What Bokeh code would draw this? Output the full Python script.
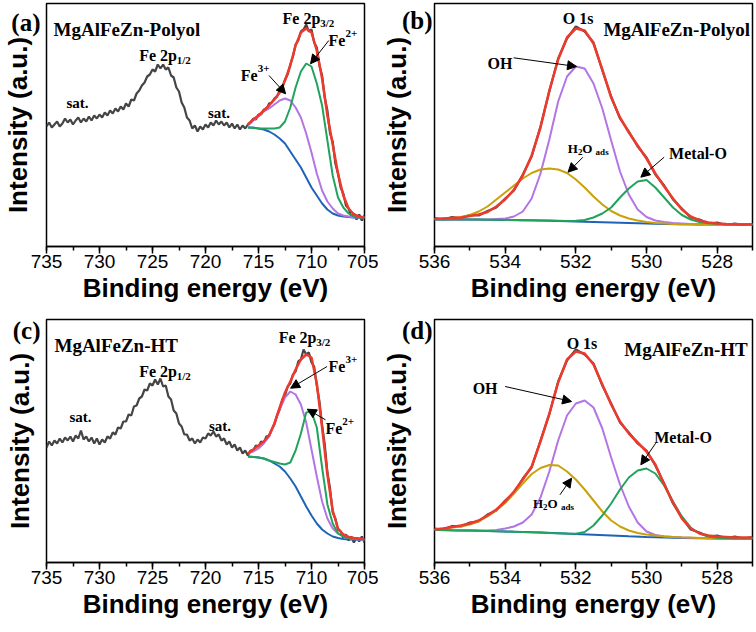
import numpy as np
from bokeh.plotting import figure
from bokeh.models import Range1d, SingleIntervalTicker, FixedTicker, Label, Arrow, NormalHead
from bokeh.layouts import gridplot
from bokeh.embed import file_html
from bokeh.resources import INLINE

# ---------------- data ----------------
# Fe 2p wide grid (735 -> 705 eV, 0.25 eV) and fit grid (716 -> 705 eV, 0.5 eV)
E_fe = np.round(np.arange(735.0, 704.99, -0.25), 2)
E_fe_fit = np.round(np.arange(716.0, 704.99, -0.5), 2)
# O 1s grid (536 -> 527 eV, 0.25 eV) and background grid (0.5 eV)
E_o = np.round(np.arange(536.0, 526.99, -0.25), 2)
E_o_bg = np.round(np.arange(536.0, 526.99, -0.5), 2)

raw_a = [119, 123, 118, 121, 124, 119, 122, 127, 123, 126,
         121, 125, 128, 123, 127, 124, 129, 125, 130, 127,
         131, 128, 133, 130, 135, 132, 137, 134, 139, 136,
         142, 139, 146, 145, 152, 155, 160, 163, 169, 171,
         176, 174, 181, 177, 181, 176, 178, 170, 168, 158,
         154, 143, 138, 128, 125, 117, 120, 114, 119, 116,
         121, 118, 123, 120, 125, 121, 124, 120, 123, 118,
         122, 117, 121, 116, 120, 117, 121, 123, 127, 126,
         131, 131, 136, 136, 142, 143, 147, 149, 155, 158,
         166, 171, 181, 189, 201, 205, 214, 216, 221, 214,
         216, 203, 198, 180, 170, 148, 135, 112, 104, 82,
         72, 58, 52, 40, 37, 29, 32, 26, 31, 25,
         30]
bg_a = [118, 118, 117, 116, 114, 111, 107, 102, 94, 86, 78, 68, 58, 50, 42, 36, 32, 30, 29, 28.5, 28, 28, 28]
fe3_a = [120, 125, 129, 134, 137, 141, 145, 147, 145, 138, 128, 112, 93, 72, 55, 44, 37, 32, 30, 29, 28, 28, 28]
fe2_a = [118, 117.5, 117, 117, 117, 117, 118, 124, 138, 158, 174, 182, 179, 162, 140, 105, 70, 48, 38, 32, 29, 28, 28]
env_a = [121, 126, 130, 135, 140, 146, 153, 165, 180, 200, 213, 217, 213, 195, 167, 130, 101, 72, 50, 37, 31, 29, 28]

raw_c = [115, 121, 117, 122, 119, 124, 120, 125, 122, 126,
         121, 127, 124, 132, 123, 126, 121, 125, 119, 124,
         118, 123, 120, 126, 124, 130, 128, 135, 134, 141,
         141, 148, 147, 156, 157, 164, 166, 173, 172, 179,
         177, 183, 178, 184, 176, 177, 166, 163, 152, 149,
         139, 136, 128, 128, 122, 124, 119, 123, 120, 125,
         124, 129, 127, 131, 126, 128, 122, 124, 118, 121,
         115, 118, 112, 115, 109, 112, 107, 112, 112, 117,
         116, 121, 120, 126, 127, 133, 138, 147, 153, 163,
         167, 176, 179, 188, 191, 201, 203, 213, 208, 210,
         200, 196, 177, 161, 137, 118, 90, 74, 50, 44,
         33, 31, 25, 28, 22, 26, 20, 25, 21, 26,
         20]
bg_c = [106, 105.5, 105, 104, 102, 99, 96, 91, 84, 76, 66, 56, 47, 39, 33, 29, 26, 24.5, 23.5, 23, 23, 23, 23]
fe3_c = [109, 111, 114, 119, 126, 139, 153, 165, 171, 168, 158, 140, 113, 86, 61, 44, 34, 29, 26, 24.5, 23.5, 23, 23]
fe2_c = [106, 105.5, 105, 104, 102, 100.5, 99, 98, 100, 112, 129, 150, 151, 135, 95, 58, 39, 29, 26, 24.5, 24, 23.5, 23]
env_c = [109, 113, 117, 121, 127, 139, 155, 170, 181, 193, 203, 208, 205, 179, 135, 88, 52, 34, 28, 25.5, 24.5, 24, 23.5]

raw_b = [27.5, 26, 28.5, 27, 30.5, 30, 34.5, 38, 47, 55, 71, 89, 119, 154, 187, 207, 219, 214, 203, 175,
         149, 127, 114, 99, 88, 71, 60, 46, 37, 28, 26, 22, 23, 20.5, 22, 20.5, 21.5]
bg_b = [26, 26, 26, 25.8, 25.6, 25.3, 25, 24.6, 24, 23.5, 23, 22.5, 22, 21.6, 21.3, 21.1, 21, 21, 21]
h2o_b = [26.5, 27, 27.5, 28.5, 30.5, 34, 39, 46, 53, 60, 67, 72.5, 76, 77, 76, 72.5, 66, 58, 49, 41,
         34.5, 30, 27, 25, 23.5, 22.5, 22, 21.5, 21.3, 21.2, 21.1, 21, 21, 21, 21, 21, 21]
oh_b = [26, 26, 26, 26, 26, 26, 26, 26.5, 27, 29, 34, 47, 72, 106, 144, 169, 179, 177, 162, 137,
        105, 74, 51, 36, 28.5, 25, 23.5, 22.5, 22, 21.5, 21.3, 21.2, 21, 21, 21, 21, 21]
mo_b = [26, 26, 26, 26, 26, 25.9, 25.8, 25.7, 25.6, 25.5, 25.3, 25.2, 25, 24.9, 24.8, 24.6, 24.8, 25.5, 28, 32,
        38, 48, 57, 64, 65.5, 58, 48, 38, 30.5, 26, 23.5, 22.3, 21.7, 21.3, 21.1, 21, 21]
env_b = [26.5, 27, 27.5, 28, 29.5, 31, 33.5, 39, 46, 56, 70, 90, 118, 155, 186, 208, 217, 215, 202, 176,
         148, 128, 113, 100, 87, 72, 59, 47, 36, 29, 25, 23, 22, 21.5, 21.2, 21, 21]

raw_d = [34, 33, 36.5, 36, 40, 41, 48, 52, 62, 70, 84, 95, 122, 148, 181, 202, 213, 208, 199, 177,
         159, 140, 130, 119, 112, 97, 79, 59, 45, 33, 30, 26, 27, 24.5, 26, 24, 25.5]
bg_d = [32.5, 32.2, 32, 31.5, 31, 30.5, 30, 29.3, 28.5, 27.8, 27, 26.2, 25.5, 25, 24.6, 24.3, 24.1, 24, 24]
h2o_d = [33, 34, 35, 36, 38, 41, 46, 52, 59.5, 69, 79, 88.5, 94.5, 97.5, 97, 91, 83, 73, 62, 51,
         42, 36, 32, 29.5, 28, 27, 26.2, 25.6, 25.2, 24.9, 24.6, 24.4, 24.2, 24.1, 24, 24, 24]
oh_d = [32.5, 32.4, 32.2, 32.1, 32, 32, 32, 32.5, 34, 36, 40, 48, 65, 91, 122, 147, 159, 162, 155, 134,
        105, 78, 56, 40, 31, 27.5, 26, 25.4, 25, 24.7, 24.5, 24.3, 24.1, 24, 24, 24, 24]
mo_d = [32.5, 32.4, 32.2, 32.1, 32, 31.7, 31.5, 31.2, 31, 30.7, 30.5, 30.2, 30, 29.6, 29.3, 28.9, 28.7, 30.5, 37, 47,
        59, 73, 85, 92, 94, 89, 77, 61, 46, 35, 29, 26, 24.8, 24.3, 24.1, 24, 24]
env_d = [33, 34, 35.5, 37, 39, 42, 47, 53, 61, 71, 83, 96, 121, 149, 180, 203, 211, 209, 198, 178,
         158, 141, 129, 120, 111, 98, 78, 60, 44, 34, 29, 27, 26, 25.5, 25, 25, 25]

# ---------------- style ----------------
SERIF = "Liberation Serif"
SANS = "Liberation Sans"
C_RAW = "#454545"
C_ENV = "#EE3A2C"
C_PUR = "#B275E3"
C_GRN = "#21A35C"
C_BLU = "#1F63B8"
C_GLD = "#C9A10B"


def make_panel(xr, yr, interval, left, right, tag, tag_y, tag_standoff, label_standoff):
    p = figure(width=378, height=316, x_range=Range1d(*xr), y_range=Range1d(*yr),
               output_backend="svg", toolbar_location=None,
               min_border_left=left, min_border_right=right,
               min_border_top=3, min_border_bottom=70)
    p.grid.visible = False
    p.outline_line_color = "black"
    p.outline_line_width = 1.5
    p.background_fill_color = "white"
    p.border_fill_color = "white"
    xa = p.xaxis[0]
    xa.ticker = SingleIntervalTicker(interval=interval, num_minor_ticks=2)
    xa.axis_line_width = 1.5
    xa.major_tick_line_width = 1.5
    xa.minor_tick_line_width = 1.5
    xa.major_tick_out = 7
    xa.major_tick_in = 0
    xa.minor_tick_out = 4
    xa.minor_tick_in = 0
    xa.major_label_text_font = SANS
    xa.major_label_text_font_size = "19px"
    xa.major_label_text_color = "black"
    xa.major_label_standoff = 1
    xa.axis_label = "Binding energy (eV)"
    xa.axis_label_text_font = SANS
    xa.axis_label_text_font_size = "26px"
    xa.axis_label_text_font_style = "bold"
    xa.axis_label_text_color = "black"
    xa.axis_label_standoff = 2
    # left axis: no ticks; its single tick label carries the panel tag, e.g. "(a)"
    ya = p.yaxis[0]
    ya.ticker = FixedTicker(ticks=[tag_y])
    ya.major_label_overrides = {tag_y: tag}
    ya.axis_line_color = None
    ya.major_tick_line_color = None
    ya.minor_tick_line_color = None
    ya.major_tick_out = 0
    ya.major_tick_in = 0
    ya.major_label_text_font = SERIF
    ya.major_label_text_font_size = "25px"
    ya.major_label_text_font_style = "bold"
    ya.major_label_text_color = "black"
    ya.major_label_standoff = tag_standoff
    ya.axis_label = "Intensity (a.u.)"
    ya.axis_label_text_font = SANS
    ya.axis_label_text_font_size = "26px"
    ya.axis_label_text_font_style = "bold"
    ya.axis_label_text_color = "black"
    ya.axis_label_standoff = label_standoff
    return p


def lab(p, x, y, text, size, base="alphabetic", font=SERIF, style="bold"):
    p.add_layout(Label(x=x, y=y, text=text, text_font=font, text_font_size=size,
                       text_font_style=style, text_color="black",
                       text_baseline=base, text_align="left"))


def arrow(p, x0, y0, x1, y1):
    p.add_layout(Arrow(end=NormalHead(size=9, fill_color="black", line_color="black", line_width=1),
                       x_start=x0, y_start=y0, x_end=x1, y_end=y1,
                       line_color="black", line_width=1))


# ---------------- panel (a) ----------------
pa = make_panel((735, 705), (-1, 242), 5, 45, 14, "(a)", 223, 6, -25)
pa.line(E_fe, raw_a, line_color=C_RAW, line_width=2.2)
pa.line(E_fe_fit, bg_a, line_color=C_BLU, line_width=2)
pa.line(E_fe_fit, fe3_a, line_color=C_PUR, line_width=2)
pa.line(E_fe_fit, fe2_a, line_color=C_GRN, line_width=2)
pa.line(E_fe_fit, env_a, line_color=C_ENV, line_width=2.5)
lab(pa, 734.34, 216, "MgAlFeZn-Polyol", "19px")
lab(pa, 726.26, 190, "Fe 2p", "16px")
lab(pa, 722.71, 186, "1/2", "11px")
lab(pa, 712.73, 227, "Fe 2p", "16px")
lab(pa, 709.17, 223, "3/2", "11px")
lab(pa, 708.40, 205, "Fe", "16px")
lab(pa, 706.80, 212, "2+", "11px")
lab(pa, 716.67, 170, "Fe", "16px")
lab(pa, 715.08, 177, "3+", "11px")
lab(pa, 733.12, 143, "sat.", "15px")
lab(pa, 719.77, 133, "sat.", "15px")
arrow(pa, 714.01, 170, 712.44, 151.7)
arrow(pa, 708.37, 205, 710.09, 181.7)

# ---------------- panel (b) ----------------
pb = make_panel((536, 527), (-1, 242), 2, 54, 4, "(b)", 225, 2, -13)
pb.line(E_o, raw_b, line_color=C_RAW, line_width=2.2)
pb.line(E_o_bg, bg_b, line_color=C_BLU, line_width=2)
pb.line(E_o, oh_b, line_color=C_PUR, line_width=2)
pb.line(E_o, h2o_b, line_color=C_GLD, line_width=2)
pb.line(E_o, mo_b, line_color=C_GRN, line_width=2)
pb.line(E_o, env_b, line_color=C_ENV, line_width=2.5)
lab(pb, 532.37, 227, "O 1s", "16px")
lab(pb, 531.22, 216, "MgAlFeZn-Polyol", "19px")
lab(pb, 534.50, 182, "OH", "16px")
lab(pb, 532.23, 97, "H", "13px")
lab(pb, 531.94, 94, "2", "9px")
lab(pb, 531.82, 97, "O", "13px")
lab(pb, 531.44, 94, "ads", "9px")
lab(pb, 529.36, 92, "Metal-O", "16px")
arrow(pb, 533.76, 187.7, 531.98, 179)
arrow(pb, 531.80, 88.3, 532.22, 73.3)
arrow(pb, 529.50, 88.3, 530.16, 68.3)

# ---------------- panel (c) ----------------
pc = make_panel((735, 705), (0, 243), 5, 45, 14, "(c)", 233, 6, -25)
pc.line(E_fe, raw_c, line_color=C_RAW, line_width=2.2)
pc.line(E_fe_fit, bg_c, line_color=C_BLU, line_width=2)
pc.line(E_fe_fit, fe3_c, line_color=C_PUR, line_width=2)
pc.line(E_fe_fit, fe2_c, line_color=C_GRN, line_width=2)
pc.line(E_fe_fit, env_c, line_color=C_ENV, line_width=2.5)
lab(pc, 734.25, 217, "MgAlFeZn-HT", "19px")
lab(pc, 713.10, 225, "Fe 2p", "16px")
lab(pc, 709.55, 221, "3/2", "11px")
lab(pc, 726.26, 191, "Fe 2p", "16px")
lab(pc, 722.71, 187, "1/2", "11px")
lab(pc, 708.40, 196, "Fe", "16px")
lab(pc, 706.80, 203, "3+", "11px")
lab(pc, 708.68, 134, "Fe", "16px")
lab(pc, 707.09, 141, "2+", "11px")
lab(pc, 732.84, 146, "sat.", "15px")
lab(pc, 719.68, 137, "sat.", "15px")
arrow(pc, 708.53, 196, 711.97, 174.3)
arrow(pc, 708.68, 142.7, 710.40, 153.3)

# ---------------- panel (d) ----------------
pd = make_panel((536, 527), (0, 243), 2, 54, 4, "(d)", 233, 2, -13)
pd.line(E_o, raw_d, line_color=C_RAW, line_width=2.2)
pd.line(E_o_bg, bg_d, line_color=C_BLU, line_width=2)
pd.line(E_o, oh_d, line_color=C_PUR, line_width=2)
pd.line(E_o, h2o_d, line_color=C_GLD, line_width=2)
pd.line(E_o, mo_d, line_color=C_GRN, line_width=2)
pd.line(E_o, env_d, line_color=C_ENV, line_width=2.5)
lab(pd, 532.26, 219, "O 1s", "16px")
lab(pd, 530.63, 213, "MgAlFeZn-HT", "19px")
lab(pd, 534.92, 174, "OH", "16px")
lab(pd, 533.21, 59, "H", "13px")
lab(pd, 532.93, 56, "2", "9px")
lab(pd, 532.80, 59, "O", "13px")
lab(pd, 532.42, 56, "ads", "9px")
lab(pd, 529.78, 125, "Metal-O", "16px")
arrow(pd, 534.00, 176, 532.12, 161)
arrow(pd, 532.45, 67.7, 532.12, 84.3)
arrow(pd, 529.74, 119.3, 530.16, 97.7)

grid = gridplot([[pa, pb], [pc, pd]], toolbar_location=None)
open("out.html", "w").write(file_html(grid, INLINE))
